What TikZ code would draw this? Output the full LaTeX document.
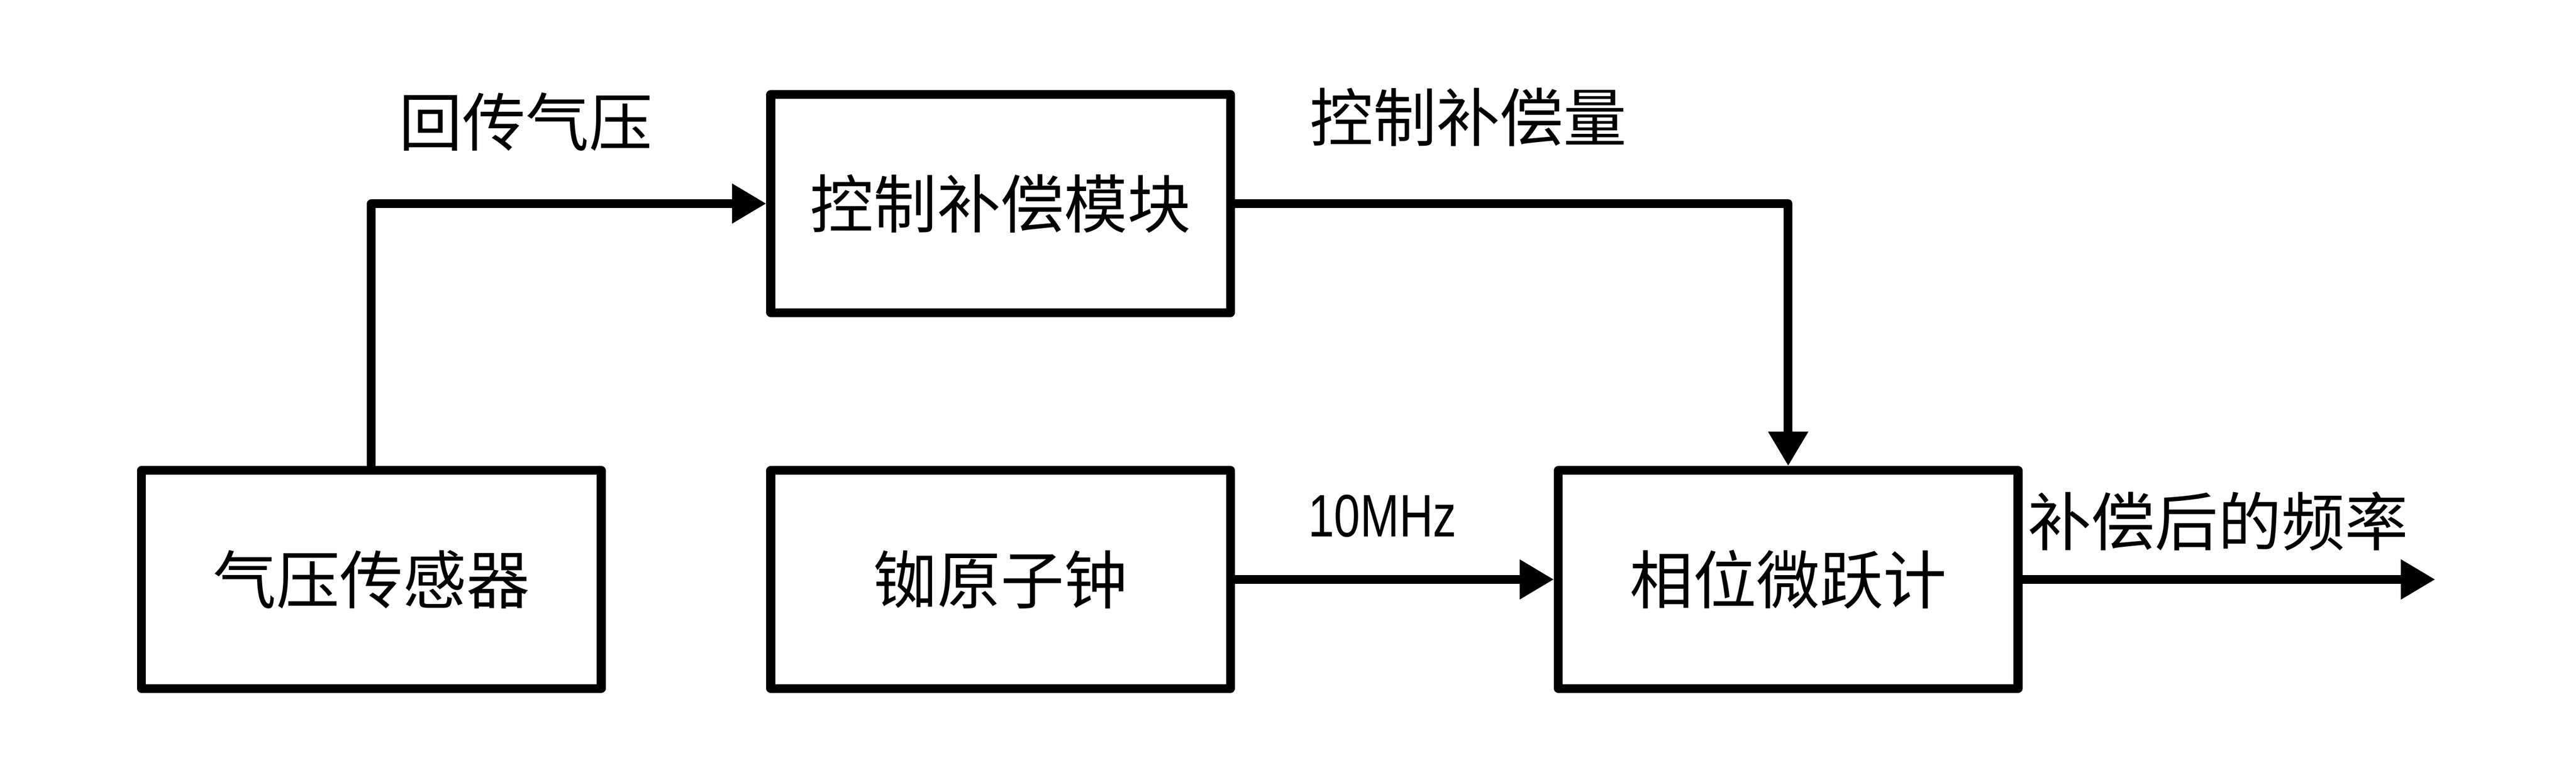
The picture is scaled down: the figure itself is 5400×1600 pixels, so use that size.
\documentclass[tikz,border=0pt]{standalone}
\usepackage{fontspec}
\setmainfont{Noto Sans CJK SC}
\newfontfamily\latinfont[FakeStretch=0.78]{Liberation Sans}
\usetikzlibrary{arrows.meta}
\begin{document}
\begin{tikzpicture}[x=0.01cm,y=-0.01cm,
  every node/.style={font=\fontsize{37.8pt}{45pt}\selectfont},
  blockbox/.style={draw=black,line width=0.185cm,line join=round,rectangle,
    minimum width=9.63cm,minimum height=4.57cm,inner sep=0pt},
  conn/.style={draw=black,line width=0.185cm,line join=round,
    -{Triangle[length=0.72cm,width=0.79cm]}},
  lbl/.style={inner sep=0pt}]
\useasboundingbox (0,0) rectangle (5400,1600);
\node[blockbox] (A) at (778.5,1215.5) {气压传感器};
\node[blockbox] (B) at (2097.5,427) {控制补偿模块};
\node[blockbox] (C) at (2097.5,1215.5) {铷原子钟};
\node[blockbox] (D) at (3748.5,1215.5) {相位微跃计};
\coordinate (out) at (5105,1215.5);
\draw[conn] (A.north) |- (B.west);
\draw[conn] (B.east) -| (D.north);
\draw[conn] (C.east) -- (D.west);
\draw[conn] (D.east) -- (out);
\node[lbl] (l1) at (1102,256) {回传气压};
\node[lbl] (l2) at (3078,246) {控制补偿量};
\node[lbl,font=\latinfont\fontsize{35.8pt}{42pt}\selectfont] (l3) at (2898,1083) {10MHz};
\node[lbl] (l4) at (4650,1094) {补偿后的频率};
\end{tikzpicture}
\end{document}
